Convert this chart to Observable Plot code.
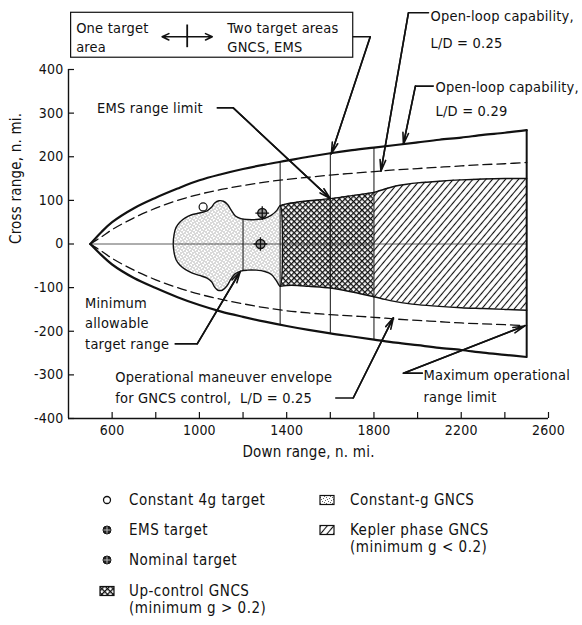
<!DOCTYPE html>
<html><head><meta charset="utf-8">
<script src="https://cdn.jsdelivr.net/npm/d3@7"></script>
<script src="https://cdn.jsdelivr.net/npm/@observablehq/plot@0.6"></script>
<style>
body{margin:0;background:#fff;}
#wrap{position:relative;width:582px;height:625px;overflow:hidden;font-family:"Liberation Sans Narrow","DejaVu Sans Condensed","Arial Narrow",sans-serif;color:#111;}
#legend{position:absolute;left:0;top:470px;width:582px;height:155px;}
.item{position:absolute;font-size:15px;letter-spacing:0.5px;line-height:17px;white-space:nowrap;transform:translateY(-50%);}
.sw{position:absolute;overflow:visible;}
svg text{letter-spacing:0.2px;}
</style></head><body><div id="wrap"><div id="chart"></div><div id="legend"></div></div>
<script>
// ---------- data ----------
const xDomain = [400, 2600];
const yDomain = [-400, 400];
const xTicks = [600, 1000, 1400, 1800, 2200, 2600];
const xMinorTicks = [800, 1200, 1600, 2000, 2400];
const yTicks = [400, 300, 200, 100, 0, -100, -200, -300, -400];

// open-loop capability L/D = 0.29 (outer solid envelope)
const outerUpper = [[500,0],[550,27],[600,50],[700,82],[800,106],[900,127],[1000,146],[1100,160],[1200,172],[1300,182],[1400,191],[1500,200],[1600,208],[1700,215],[1800,221],[1900,227],[2000,233],[2100,239],[2200,244],[2300,250],[2400,255],[2500,261]];
const outerLower = [[500,0],[550,-25],[600,-47],[700,-78],[800,-101],[900,-122],[1000,-140],[1100,-155],[1200,-167],[1300,-178],[1400,-188],[1500,-197],[1600,-205],[1700,-212],[1800,-219],[1900,-226],[2000,-232],[2100,-238],[2200,-243],[2300,-249],[2400,-254],[2500,-259]];
// open-loop capability L/D = 0.25 (dashed)
const dashedUpper = [[500,0],[550,16],[600,33],[700,60],[800,82],[900,100],[1000,114],[1100,125],[1200,134],[1300,142],[1400,148],[1500,153],[1600,158],[1700,162],[1800,166],[1900,170],[2000,173],[2100,176],[2200,179],[2300,182],[2400,184],[2500,187]];
const dashedLower = [[500,0],[550,-16],[600,-33],[700,-60],[800,-82],[900,-100],[1000,-115],[1100,-127],[1200,-137],[1300,-146],[1400,-153],[1500,-158],[1600,-162],[1700,-165],[1800,-168],[1900,-172],[2000,-175],[2100,-178],[2200,-181],[2300,-183],[2400,-185],[2500,-187]];
// regions: [downRange, top, bottom]
const upControl = [[1370,88,-97],[1400,92,-95],[1450,96,-95],[1500,99,-97],[1600,104,-101],[1700,111,-110],[1800,118,-121]];
const keplerPhase = [[1800,118,-121],[1850,126,-127],[1900,133,-132],[1950,137,-136],[2000,140,-139],[2100,144,-143],[2200,147,-146],[2300,149,-148],[2400,150,-150],[2500,150,-152]];
// constant-g GNCS blob outline
const constantG = [[880,0],[884,22],[893,38],[910,50],[935,60],[965,67],[1000,71],[1035,76],[1055,84],[1070,94],[1090,99],[1110,98],[1130,90],[1145,78],[1165,64],[1190,58],[1220,56],[1260,56],[1300,59],[1330,66],[1355,77],[1370,88],[1370,-97],[1355,-86],[1330,-70],[1300,-63],[1260,-60],[1220,-60],[1190,-62],[1165,-68],[1145,-80],[1125,-97],[1105,-106],[1085,-106],[1070,-99],[1055,-86],[1035,-78],[1000,-72],[965,-66],[935,-58],[910,-48],[893,-36],[884,-20]];
// vertical boundary lines [x, yBottom, yTop]
const verticals = [[1200,-61,57],[1370,-187,189],[1600,-205,208],[1800,-219,221]];
const rangeLimit = [[2500,-259,261]];
const zeroLine = [[500,2500]];
// targets
const constant4g = [[1017,85]];
const emsTarget = [[1288,71]];
const nominalTarget = [[1280,0]];
// annotations
const labelLines = [
  ["One target",435,495],["area",435,450],
  ["Two target areas",1128,495],["GNCS, EMS",1128,450],
  ["Open-loop capability,",2059,521],["L/D = 0.25",2059,461],
  ["Open-loop capability,",2082,358],["L/D = 0.29",2082,303],
  ["EMS range limit",531,312],
  ["Minimum",476,-135],["allowable",476,-181],["target range",476,-229],
  ["Operational maneuver envelope",614,-305],["for GNCS control,  L/D = 0.25",614,-353],
  ["Maximum operational",2027,-300],["range limit",2027,-351]
];
const annotationBox = [[412,1705,427,530]];
const boxArrowCenter = [[944,475]];
const boxArrowEnds = [[829,475],[1059,475]];
const boxArrowBar = [[944,450,502]];
const leaders = [
  [[1705,475],[1783,475],[1605,207]],
  [[2050,530],[1958,530],[1832,167]],
  [[2072,362],[1990,362],[1935,229]],
  [[1082,312],[1155,312],[1600,104]],
  [[889,-229],[990,-229],[1187,-63]],
  [[1625,-353],[1705,-353],[1889,-169]],
  [[2022,-296],[1935,-296],[2490,-188]]
];
const xLabel = "Down range, n. mi.";
const yLabel = "Cross range, n. mi.";
const legendLeft = [
  {kind:"open", lines:["Constant 4g target"]},
  {kind:"ems", lines:["EMS target"]},
  {kind:"nominal", lines:["Nominal target"]},
  {kind:"upcontrol", lines:["Up-control GNCS","(minimum g > 0.2)"]}
];
const legendRight = [
  {kind:"constantg", lines:["Constant-g GNCS"]},
  {kind:"kepler", lines:["Kepler phase GNCS","(minimum g < 0.2)"]}
];

// ---------- chart ----------
const FONT = '"Liberation Sans Narrow","DejaVu Sans Condensed","Arial Narrow",sans-serif';
const leaderSegs = leaders.flatMap((pts, i) => pts.map(p => ({x: p[0], y: p[1], id: i})));
const leaderHeads = leaders.map(pts => ({x1: pts[pts.length-2][0], y1: pts[pts.length-2][1], x2: pts[pts.length-1][0], y2: pts[pts.length-1][1]}));

const chart = Plot.plot({
  width: 582, height: 470,
  marginLeft: 68, marginRight: 34, marginTop: 69, marginBottom: 52,
  style: {fontFamily: FONT, fontSize: "14px", background: "white", color: "#111", overflow: "visible"},
  x: {domain: xDomain, ticks: xTicks, tickSize: 0, tickPadding: 7, tickFormat: d => String(d), label: null},
  y: {domain: yDomain, ticks: yTicks, tickSize: 0, tickPadding: 5, tickFormat: d => String(d), label: null},
  marks: [
    // regions
    Plot.areaY(keplerPhase, {x: d => d[0], y1: d => d[2], y2: d => d[1], fill: "url(#hatch)", curve: "catmull-rom"}),
    Plot.areaY(upControl, {x: d => d[0], y1: d => d[2], y2: d => d[1], fill: "url(#xhatch)", curve: "catmull-rom"}),
    Plot.line(constantG, {x: d => d[0], y: d => d[1], fill: "url(#stipple)", stroke: "#111", strokeWidth: 1.4, curve: "catmull-rom-closed"}),
    Plot.line(upControl, {x: d => d[0], y: d => d[1], stroke: "#111", strokeWidth: 1.4, curve: "catmull-rom"}),
    Plot.line(upControl, {x: d => d[0], y: d => d[2], stroke: "#111", strokeWidth: 1.4, curve: "catmull-rom"}),
    Plot.line(keplerPhase, {x: d => d[0], y: d => d[1], stroke: "#111", strokeWidth: 1.4, curve: "catmull-rom"}),
    Plot.line(keplerPhase, {x: d => d[0], y: d => d[2], stroke: "#111", strokeWidth: 1.4, curve: "catmull-rom"}),
    // zero line
    Plot.ruleY(zeroLine, {y: 0, x1: d => d[0], x2: d => d[1], stroke: "#333", strokeWidth: 0.8}),
    // verticals
    Plot.ruleX(verticals, {x: d => d[0], y1: d => d[1], y2: d => d[2], stroke: "#111", strokeWidth: 1}),
    Plot.ruleX(rangeLimit, {x: d => d[0], y1: d => d[1], y2: d => d[2], stroke: "#111", strokeWidth: 2}),
    // envelopes
    Plot.line(outerUpper, {x: d => d[0], y: d => d[1], stroke: "#111", strokeWidth: 2.2, curve: "catmull-rom"}),
    Plot.line(outerLower, {x: d => d[0], y: d => d[1], stroke: "#111", strokeWidth: 2.2, curve: "catmull-rom"}),
    Plot.line(dashedUpper, {x: d => d[0], y: d => d[1], stroke: "#111", strokeWidth: 1.3, strokeDasharray: "9,5", curve: "catmull-rom"}),
    Plot.line(dashedLower, {x: d => d[0], y: d => d[1], stroke: "#111", strokeWidth: 1.3, strokeDasharray: "9,5", curve: "catmull-rom"}),
    // targets
    Plot.dot(constant4g, {x: d => d[0], y: d => d[1], r: 4, fill: "white", stroke: "#111", strokeWidth: 1.2}),
    Plot.dot(emsTarget.concat(nominalTarget), {x: d => d[0], y: d => d[1], r: 4.5, fill: "#999", stroke: "#111", strokeWidth: 1.4}),
    Plot.dot(emsTarget.concat(nominalTarget), {x: d => d[0], y: d => d[1], r: 4.5, symbol: "plus", stroke: "#111", strokeWidth: 1.3}),
    // axes lines and inward ticks
    Plot.ruleX([xDomain[0]], {stroke: "#111", strokeWidth: 1.4}),
    Plot.ruleY([yDomain[0]], {stroke: "#111", strokeWidth: 1.4}),
    Plot.tickX(xTicks.concat(xMinorTicks), {x: d => d, insetTop: 343, stroke: "#111", strokeWidth: 1.2}),
    Plot.tickY(yTicks, {y: d => d, insetRight: 474, stroke: "#111", strokeWidth: 1.2}),
    Plot.text([xLabel], {frameAnchor: "bottom", dy: 38, fontSize: 15, fill: "#111"}),
    Plot.text([yLabel], {frameAnchor: "left", dx: -52, rotate: -90, fontSize: 15, fill: "#111"}),
    // annotation box
    Plot.rect(annotationBox, {x1: d => d[0], x2: d => d[1], y1: d => d[2], y2: d => d[3], fill: "none", stroke: "#111", strokeWidth: 1.2}),
    Plot.arrow(boxArrowEnds, {x1: boxArrowCenter[0][0], y1: boxArrowCenter[0][1], x2: d => d[0], y2: d => d[1], stroke: "#111", strokeWidth: 1.6, headLength: 7, headAngle: 50}),
    Plot.ruleX(boxArrowBar, {x: d => d[0], y1: d => d[1], y2: d => d[2], stroke: "#111", strokeWidth: 1.8}),
    // leaders
    Plot.line(leaderSegs, {x: "x", y: "y", z: "id", stroke: "#111", strokeWidth: 1.6}),
    Plot.arrow(leaderHeads, {x1: "x1", y1: "y1", x2: "x2", y2: "y2", stroke: "#111", strokeWidth: 1.6, headLength: 11, headAngle: 28}),
    // texts
    Plot.text(labelLines, {x: d => d[1], y: d => d[2], text: d => d[0], textAnchor: "start", lineAnchor: "middle", fontSize: 14.5, fill: "#111"})
  ]
});

// patterns
function addDefs(svg) {
  const defs = d3.select(svg).insert("defs", ":first-child");
  const st = defs.append("pattern").attr("id", "stipple").attr("patternUnits", "userSpaceOnUse").attr("width", 6).attr("height", 6);
  st.append("rect").attr("width", 6).attr("height", 6).attr("fill", "white");
  [[0,0],[3,1],[1,3],[4,4],[5,2],[2,5]].forEach(([a, b]) => st.append("rect").attr("x", a).attr("y", b).attr("width", 1).attr("height", 1).attr("fill", "#666"));
  const xh = defs.append("pattern").attr("id", "xhatch").attr("patternUnits", "userSpaceOnUse").attr("width", 4).attr("height", 4).attr("patternTransform", "rotate(45)");
  xh.append("rect").attr("width", 4).attr("height", 4).attr("fill", "white");
  xh.append("rect").attr("x", 0).attr("y", 0).attr("width", 1.3).attr("height", 4).attr("fill", "#111");
  xh.append("rect").attr("x", 0).attr("y", 0).attr("width", 4).attr("height", 1.3).attr("fill", "#111");
  const h = defs.append("pattern").attr("id", "hatch").attr("patternUnits", "userSpaceOnUse").attr("width", 5).attr("height", 5).attr("patternTransform", "rotate(40)");
  h.append("rect").attr("width", 5).attr("height", 5).attr("fill", "white");
  h.append("line").attr("x1", 2.5).attr("y1", -1).attr("x2", 2.5).attr("y2", 6).attr("stroke", "#111").attr("stroke-width", 1.1);
}
addDefs(chart);
document.getElementById("chart").appendChild(chart);

// legend
const legend = document.getElementById("legend");
const rowsLeft = [30, 60, 90, 121];
const rowsRight = [30, 60];
function swatch(kind) {
  const s = d3.create("svg").attr("class", "sw").attr("width", 16).attr("height", 12);
  if (kind === "open") s.append("circle").attr("cx", 8).attr("cy", 6).attr("r", 3.5).attr("fill", "white").attr("stroke", "#111").attr("stroke-width", 1.3);
  else if (kind === "ems" || kind === "nominal") {
    s.append("circle").attr("cx", 8).attr("cy", 6).attr("r", 4).attr("fill", "#222").attr("stroke", "#111");
    s.append("path").attr("d", "M8,2.5V9.5M4.5,6H11.5").attr("stroke", "#bbb").attr("stroke-width", 1);
  } else {
    const fill = kind === "upcontrol" ? "url(#xhatch)" : kind === "constantg" ? "url(#stipple)" : "url(#hatch)";
    s.append("rect").attr("x", 1).attr("y", 1.5).attr("width", 14).attr("height", 9).attr("fill", fill).attr("stroke", "#111").attr("stroke-width", 1.2);
  }
  return s.node();
}
function addItems(items, rows, mx, tx) {
  items.forEach((it, i) => {
    const sw = swatch(it.kind);
    sw.style.left = (mx - 8) + "px";
    sw.style.top = (rows[i] - 6) + "px";
    legend.appendChild(sw);
    const d = document.createElement("div");
    d.className = "item";
    d.style.left = tx + "px";
    d.style.top = (rows[i] + (it.lines.length - 1) * 8.5) + "px";
    d.innerHTML = it.lines.join("<br>");
    legend.appendChild(d);
  });
}
addItems(legendLeft, rowsLeft, 107, 129);
addItems(legendRight, rowsRight, 327, 350);
</script></body></html>
